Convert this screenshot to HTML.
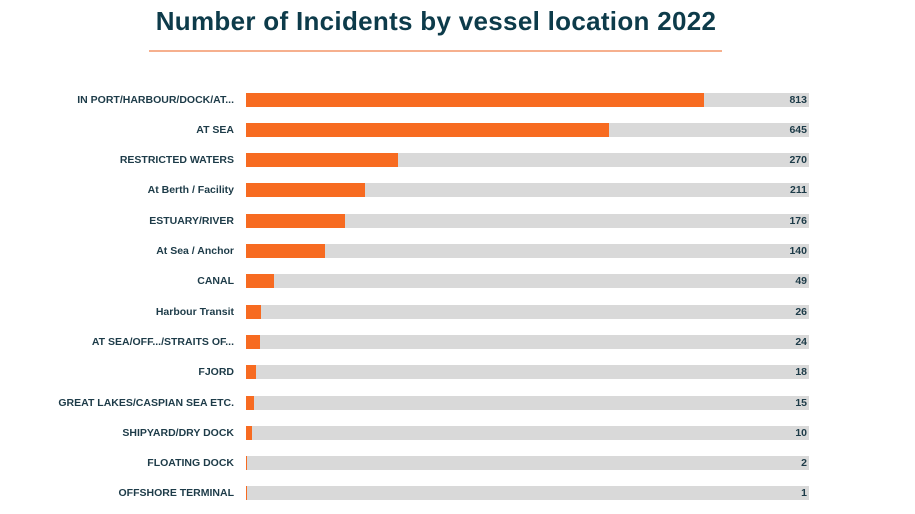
<!DOCTYPE html>
<html><head><style>
body{margin:0;width:915px;height:514px;background:#fff;font-family:"Liberation Sans",sans-serif;position:relative;overflow:hidden}
.t{position:absolute;left:0;width:872px;text-align:center;top:6px;font-size:26px;font-weight:bold;color:#0d3b4a;letter-spacing:0.3px}
.u{position:absolute;left:149px;width:573px;top:50px;height:1.5px;background:#f6b08e}
.r{position:absolute;left:0;width:915px;height:14px}
.l{position:absolute;right:681px;top:0;font-size:10.5px;font-weight:bold;color:#1d3b48;line-height:14px;white-space:nowrap}
.k{position:absolute;left:246px;width:563px;height:14px;background:#d9d9d9}
.b{position:absolute;left:246px;height:14px;background:#f76b21}
.v{position:absolute;right:108px;font-size:10.5px;font-weight:bold;color:#1d3b48;line-height:14px}
</style></head><body>
<div class="t">Number of Incidents by vessel location 2022</div>
<div class="u"></div>
<div id="c"></div>
<script>
var d=[["IN PORT/HARBOUR/DOCK/AT...",813],["AT SEA",645],["RESTRICTED WATERS",270],["At Berth / Facility",211],["ESTUARY/RIVER",176],["At Sea / Anchor",140],["CANAL",49],["Harbour Transit",26],["AT SEA/OFF.../STRAITS OF...",24],["FJORD",18],["GREAT LAKES/CASPIAN SEA ETC.",15],["SHIPYARD/DRY DOCK",10],["FLOATING DOCK",2],["OFFSHORE TERMINAL",1]];
var h="";d.forEach(function(e,i){var y=92.5+i*30.3;var w=Math.max(1,e[1]*0.5635);
h+='<div class="r" style="top:'+y+'px"><div class="l">'+e[0]+'</div><div class="k"></div><div class="b" style="width:'+w+'px"></div><div class="v">'+e[1]+'</div></div>';});
document.getElementById("c").innerHTML=h;
</script>
</body></html>
